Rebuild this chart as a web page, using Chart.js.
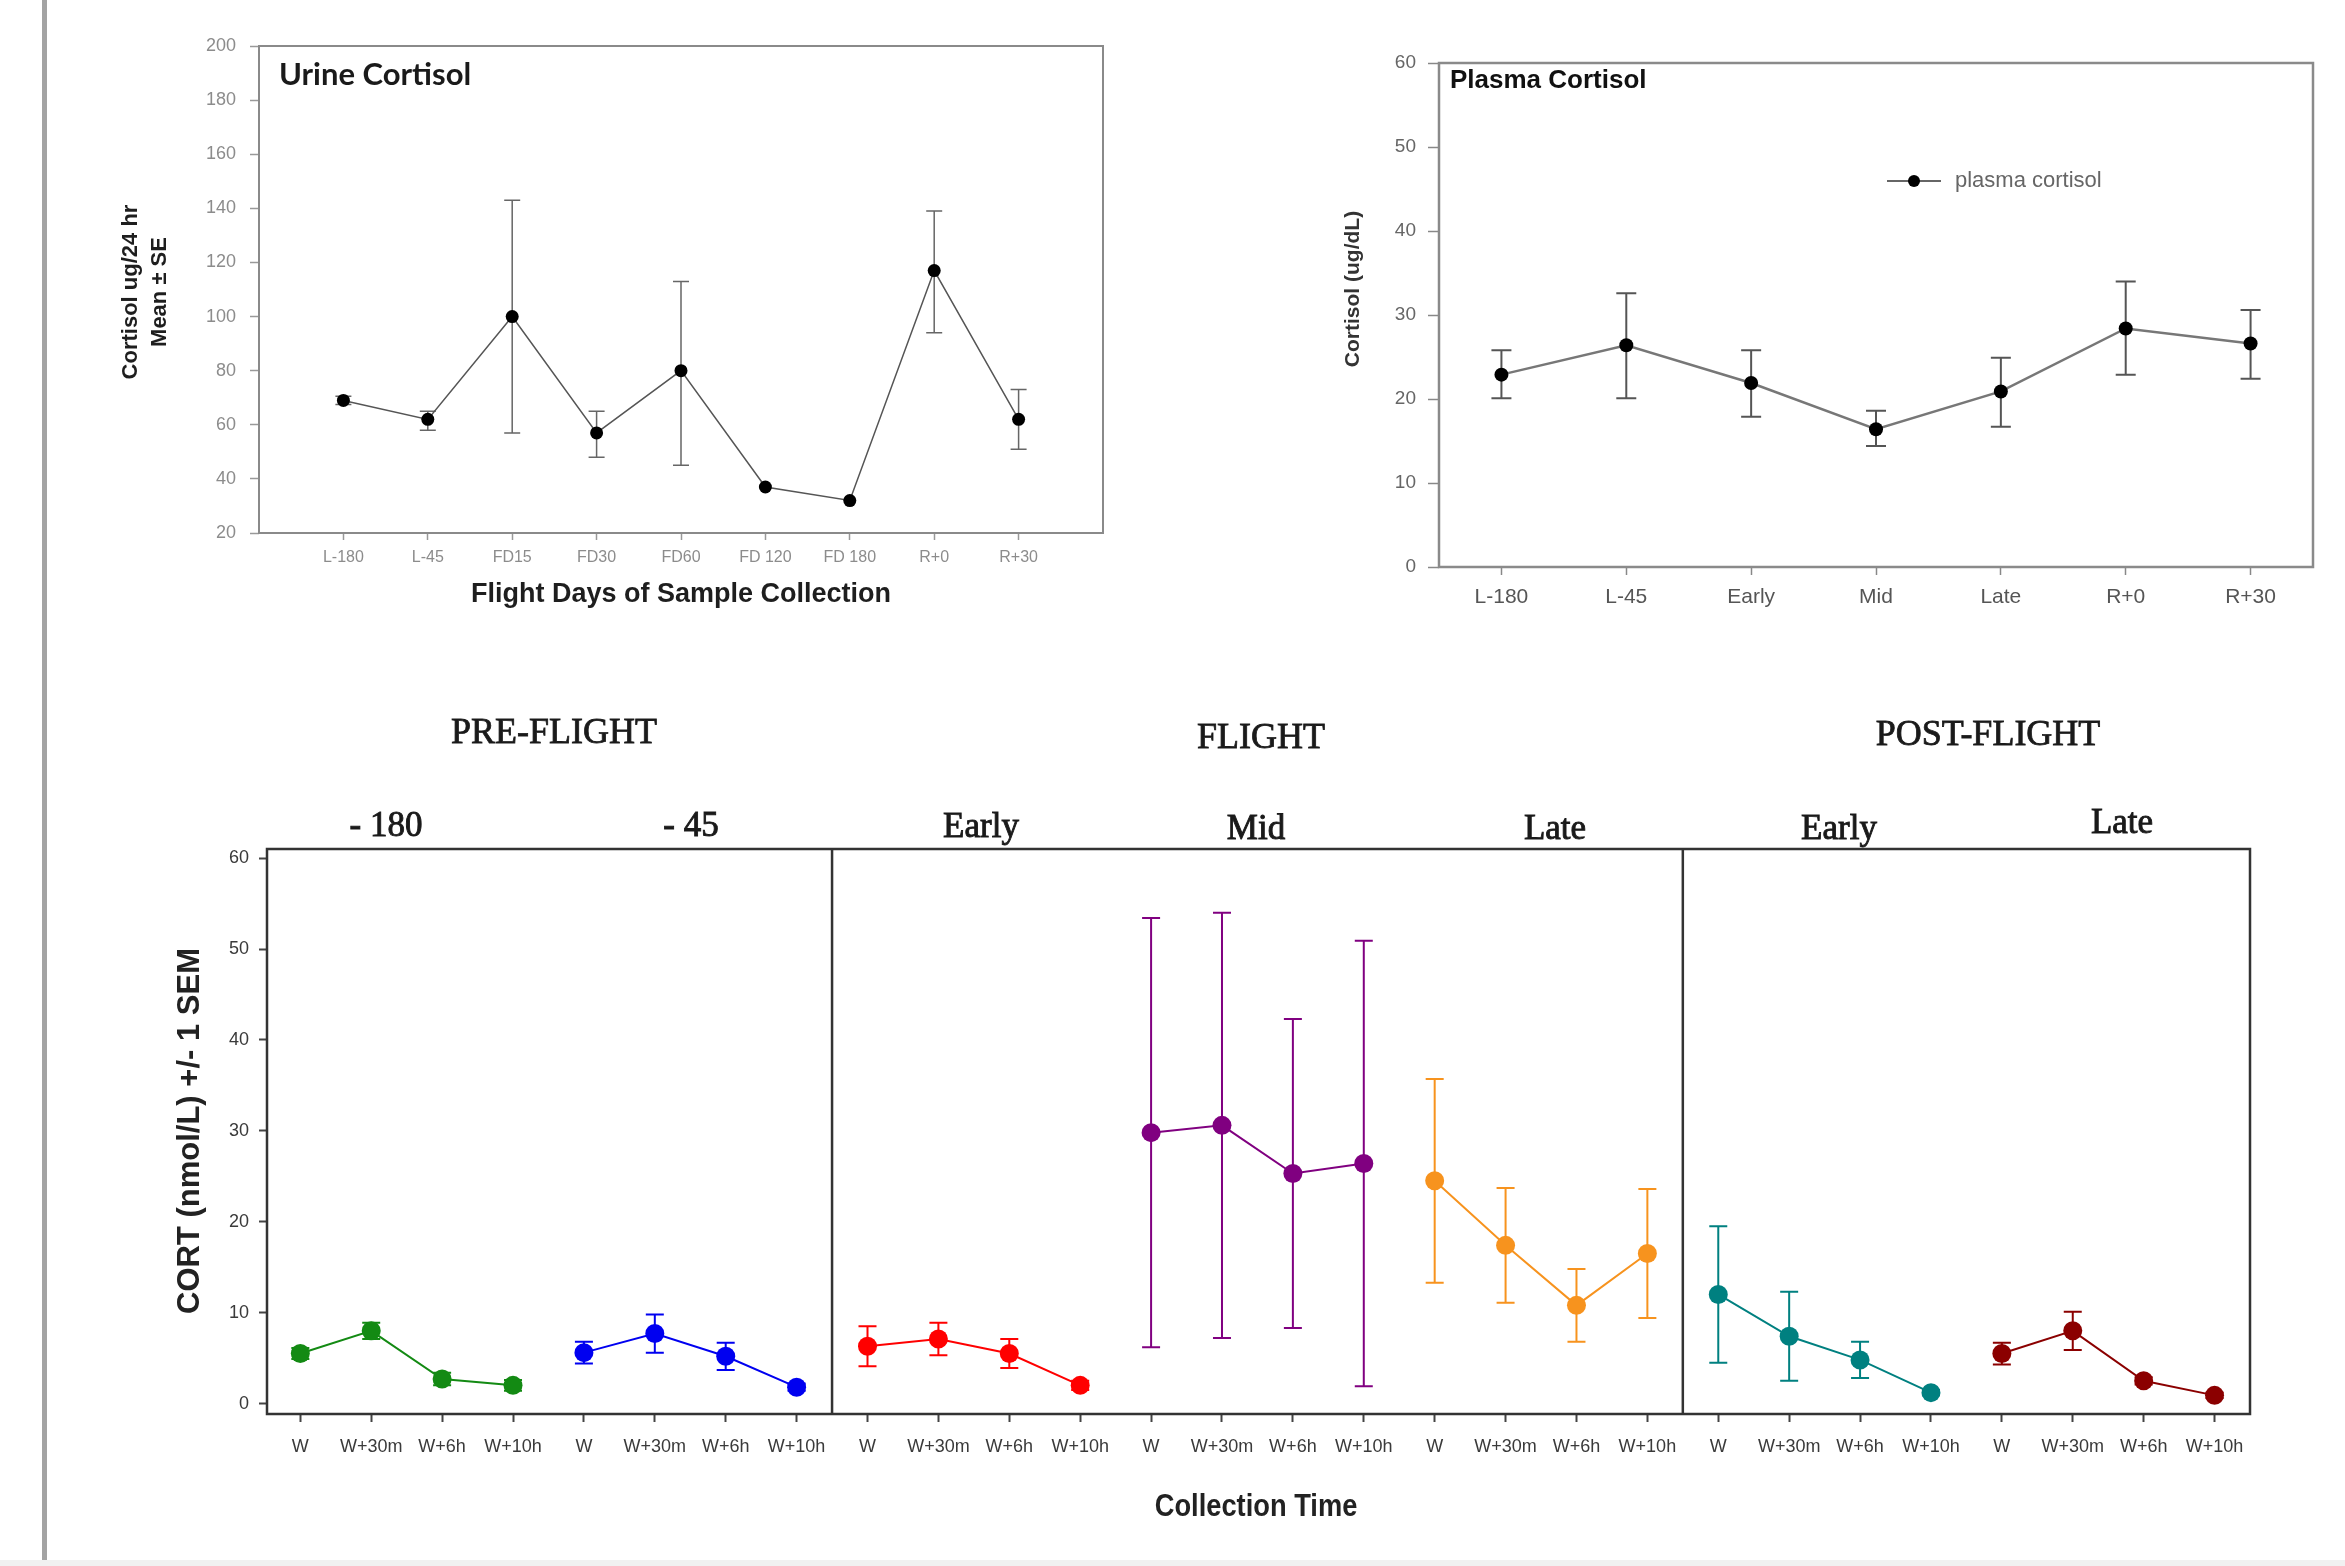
<!DOCTYPE html>
<html>
<head>
<meta charset="utf-8">
<script src="https://cdn.jsdelivr.net/npm/chart.js@4.4.1/dist/chart.umd.min.js"></script>
<style>
  body { margin: 0; background: #fff; width: 2345px; height: 1566px; position: relative; overflow: hidden; }
  canvas { position: absolute; }
  #bar { position: absolute; left: 42px; top: 0; width: 5px; height: 1566px; background: #a3a3a3; }
  #foot { position: absolute; left: 0; top: 1560px; width: 2345px; height: 6px; background: #f1f1f1; }
</style>
</head>
<body>
<div id="bar"></div>
<div id="foot"></div>
<canvas id="urine" width="1200" height="640" style="left:0;top:0"></canvas>
<canvas id="plasma" width="1145" height="640" style="left:1200px;top:0"></canvas>
<canvas id="cort" width="2345" height="926" style="left:0;top:640px"></canvas>
<script>
// urine cortisol (ug/24 hr)
const urineLabels = ['L-180', 'L-45', 'FD15', 'FD30', 'FD60', 'FD 120', 'FD 180', 'R+0', 'R+30'];
const urineMean = [69, 62, 100, 57, 80, 37, 32, 117, 62];
const urineLow  = [67.5, 58, 57, 48, 45, null, null, 94, 51];
const urineHigh = [70.5, 65, 143, 65, 113, null, null, 139, 73];

// plasma cortisol (ug/dL)
const plasmaLabels = ['L-180', 'L-45', 'Early', 'Mid', 'Late', 'R+0', 'R+30'];
const plasmaMean = [22.9, 26.4, 21.9, 16.4, 20.9, 28.4, 26.6];
const plasmaLow  = [20.1, 20.1, 17.9, 14.4, 16.7, 22.9, 22.4];
const plasmaHigh = [25.8, 32.6, 25.8, 18.6, 24.9, 34.0, 30.6];

// salivary CORT (nmol/L), mean and SEM per collection phase
const timeLabels = ['W', 'W+30m', 'W+6h', 'W+10h'];
const phaseNames = ['- 180', '- 45', 'Early', 'Mid', 'Late', 'Early', 'Late'];
const pre180 = [5.5, 8.0, 2.7, 2.0];
const pre180Sem = [0.6, 0.9, 0.7, 0.6];
const pre45 = [5.6, 7.7, 5.2, 1.8];
const pre45Sem = [1.2, 2.1, 1.5, 0.4];
const flightEarly = [6.3, 7.1, 5.5, 2.0];
const flightEarlySem = [2.2, 1.8, 1.6, 0.5];
const flightMid = [29.8, 30.6, 25.3, 26.4];
const flightMidSem = [23.6, 23.4, 17.0, 24.5];
const flightLate = [24.5, 17.4, 10.8, 16.5];
const flightLateSem = [11.2, 6.3, 4.0, 7.1];
const postEarly = [12.0, 7.4, 4.8, 1.2];
const postEarlySem = [7.5, 4.9, 2.0, 0.3];
const postLate = [5.5, 8.0, 2.5, 0.9];
const postLateSem = [1.2, 2.1, 0.4, 0.3];
const phaseColors = ['#138a13', '#0000f0', '#ff0000', '#800080', '#f7931e', '#008080', '#8b0000'];
const phaseSplits = [7.5, 19.5];

const SANS = '"Liberation Sans", Arial, sans-serif';
const SERIF = '"Liberation Serif", "Times New Roman", serif';

const common = {
  animation: false,
  responsive: false,
  devicePixelRatio: 1,
};

// box around the plot area (and optional vertical splits)
const frame = {
  id: 'frame',
  afterDraw(chart, args, opts) {
    const { ctx, chartArea: a, scales } = chart;
    ctx.save();
    ctx.strokeStyle = opts.color;
    ctx.lineWidth = opts.width;
    ctx.strokeRect(a.left, a.top, a.right - a.left, a.bottom - a.top);
    (opts.splits || []).forEach(v => {
      const px = scales.x.getPixelForValue(v);
      ctx.beginPath();
      ctx.moveTo(px, a.top);
      ctx.lineTo(px, a.bottom);
      ctx.stroke();
    });
    ctx.restore();
  }
};

const errorBars = {
  id: 'errorBars',
  beforeDatasetsDraw(chart, args, opts) {
    const { ctx, scales: { y } } = chart;
    chart.data.datasets.forEach((ds, i) => {
      if (!ds.errLow) return;
      const meta = chart.getDatasetMeta(i);
      ctx.save();
      ctx.strokeStyle = ds.errColor || ds.borderColor;
      ctx.lineWidth = opts.width;
      meta.data.forEach((pt, j) => {
        const lo = ds.errLow[j], hi = ds.errHigh[j];
        if (lo == null || hi == null) return;
        const y1 = y.getPixelForValue(lo), y2 = y.getPixelForValue(hi);
        ctx.beginPath();
        ctx.moveTo(pt.x, y1); ctx.lineTo(pt.x, y2);
        ctx.moveTo(pt.x - opts.cap, y1); ctx.lineTo(pt.x + opts.cap, y1);
        ctx.moveTo(pt.x - opts.cap, y2); ctx.lineTo(pt.x + opts.cap, y2);
        ctx.stroke();
      });
      ctx.restore();
    });
  }
};

const texts = {
  id: 'texts',
  afterDraw(chart, args, opts) {
    const ctx = chart.ctx;
    (opts.items || []).forEach(t => {
      ctx.save();
      ctx.translate(t.x, t.y);
      if (t.rot) ctx.rotate(t.rot);
      if (t.sx) ctx.scale(t.sx, 1);
      ctx.font = t.font;
      ctx.fillStyle = t.color || '#000';
      ctx.textAlign = t.align || 'center';
      ctx.textBaseline = 'middle';
      ctx.fillText(t.text, 0, 0);
      if (t.heavy) {
        ctx.strokeStyle = t.color || '#000';
        ctx.lineWidth = t.heavy;
        ctx.strokeText(t.text, 0, 0);
      }
      ctx.restore();
    });
  }
};

// line + dot legend entry inside the plasma plot
const dotLegend = {
  id: 'dotLegend',
  afterDraw(chart, args, opts) {
    const ctx = chart.ctx;
    ctx.save();
    ctx.strokeStyle = '#666';
    ctx.lineWidth = 2;
    ctx.beginPath();
    ctx.moveTo(opts.x, opts.y);
    ctx.lineTo(opts.x + 54, opts.y);
    ctx.stroke();
    ctx.fillStyle = '#000';
    ctx.beginPath();
    ctx.arc(opts.x + 27, opts.y, 6, 0, Math.PI * 2);
    ctx.fill();
    ctx.font = '22px ' + SANS;
    ctx.fillStyle = '#666';
    ctx.textBaseline = 'middle';
    ctx.fillText(opts.text, opts.x + 68, opts.y);
    ctx.restore();
  }
};

const tickGrid = (color, len, w) => ({ drawOnChartArea: false, tickLength: len, tickColor: color, tickWidth: w });

// ---- urine
new Chart(document.getElementById('urine'), {
  type: 'line',
  data: {
    datasets: [{
      data: urineMean.map((v, i) => ({ x: i + 1, y: v })),
      errLow: urineLow, errHigh: urineHigh, errColor: '#666',
      borderColor: '#555', borderWidth: 1.5, tension: 0,
      pointRadius: 6.5, pointBackgroundColor: '#000', pointBorderWidth: 0
    }]
  },
  options: {
    ...common,
    layout: { padding: { left: 0, top: 46, right: 97, bottom: 0 } },
    plugins: {
      legend: { display: false }, tooltip: { enabled: false },
      frame: { color: '#8a8a8a', width: 2 },
      errorBars: { width: 1.5, cap: 8 },
      texts: { items: [
        { text: 'Urine Cortisol', x: 279, y: 75, font: 'bold 31px Lato, ' + SANS, color: '#1a1a1a', align: 'left' },
        { text: 'Cortisol ug/24 hr', x: 131, y: 292, rot: -Math.PI / 2, font: 'bold 22px ' + SANS, color: '#1e1e1e' },
        { text: 'Mean \u00B1 SE', x: 160, y: 292, rot: -Math.PI / 2, font: 'bold 22px ' + SANS, color: '#1e1e1e' },
        { text: 'Flight Days of Sample Collection', x: 681, y: 595, font: 'bold 27px ' + SANS, color: '#1e1e1e' }
      ] }
    },
    scales: {
      x: {
        type: 'linear', min: 0, max: 10,
        afterBuildTicks: s => { s.ticks = urineLabels.map((_, i) => ({ value: i + 1 })); },
        afterFit: s => { s.height = 107; },
        grid: tickGrid('#999', 7, 1.5),
        border: { display: false },
        ticks: { callback: v => urineLabels[v - 1], autoSkip: false, maxRotation: 0, padding: 8, color: '#8c8c8c', font: { family: SANS, size: 16 } }
      },
      y: {
        min: 20, max: 200,
        afterBuildTicks: s => { const t = []; for (let v = 20; v <= 200; v += 20) t.push({ value: v }); s.ticks = t; },
        afterFit: s => { s.width = 259; },
        grid: tickGrid('#999', 9, 1.5),
        border: { display: false },
        ticks: { padding: 14, color: '#8c8c8c', font: { family: SANS, size: 18 } }
      }
    }
  },
  plugins: [frame, errorBars, texts]
});

// ---- plasma
new Chart(document.getElementById('plasma'), {
  type: 'line',
  data: {
    labels: plasmaLabels,
    datasets: [{
      data: plasmaMean,
      errLow: plasmaLow, errHigh: plasmaHigh, errColor: '#555',
      borderColor: '#777', borderWidth: 2.5, tension: 0,
      pointRadius: 7, pointBackgroundColor: '#000', pointBorderWidth: 0
    }]
  },
  options: {
    ...common,
    layout: { padding: { left: 0, top: 63, right: 32, bottom: 0 } },
    plugins: {
      legend: { display: false }, tooltip: { enabled: false },
      frame: { color: '#8a8a8a', width: 2.5 },
      errorBars: { width: 2, cap: 10 },
      dotLegend: { x: 687, y: 181, text: 'plasma cortisol' },
      texts: { items: [
        { text: 'Plasma Cortisol', x: 250, y: 81, font: 'bold 26px ' + SANS, color: '#111', align: 'left' },
        { text: 'Cortisol (ug/dL)', x: 153, y: 289, rot: -Math.PI / 2, font: 'bold 21px ' + SANS, color: '#333' }
      ] }
    },
    scales: {
      x: {
        type: 'category', offset: true,
        afterFit: s => { s.height = 73; },
        grid: { ...tickGrid('#888', 8, 1.5), offset: false },
        border: { display: false },
        ticks: { autoSkip: false, maxRotation: 0, padding: 10, color: '#555', font: { family: SANS, size: 21 } }
      },
      y: {
        min: 0, max: 60,
        afterBuildTicks: s => { const t = []; for (let v = 0; v <= 60; v += 10) t.push({ value: v }); s.ticks = t; },
        afterFit: s => { s.width = 239; },
        grid: tickGrid('#888', 11, 1.5),
        border: { display: false },
        ticks: { padding: 12, color: '#666', font: { family: SANS, size: 19 } }
      }
    }
  },
  plugins: [frame, errorBars, texts, dotLegend]
});

// ---- salivary CORT by phase
const phaseMeans = [pre180, pre45, flightEarly, flightMid, flightLate, postEarly, postLate];
const phaseSems = [pre180Sem, pre45Sem, flightEarlySem, flightMidSem, flightLateSem, postEarlySem, postLateSem];
const slots = phaseMeans.length * timeLabels.length;

const cortSets = phaseMeans.map((means, g) => ({
  data: means.map((v, j) => ({ x: g * timeLabels.length + j, y: v })),
  errLow: means.map((v, j) => v - phaseSems[g][j]),
  errHigh: means.map((v, j) => v + phaseSems[g][j]),
  borderColor: phaseColors[g], borderWidth: 2, tension: 0,
  pointRadius: 9.5, pointBackgroundColor: phaseColors[g], pointBorderWidth: 0
}));

const headFont = '36px ' + SERIF;
const subFont = '35px ' + SERIF;
const subX = [386, 691, 981, 1256, 1555, 1839, 2122];
const subY = [187, 187, 188, 190, 190, 190, 184];

new Chart(document.getElementById('cort'), {
  type: 'line',
  data: { datasets: cortSets },
  options: {
    ...common,
    layout: { padding: { left: 0, top: 209, right: 95, bottom: 0 } },
    plugins: {
      legend: { display: false }, tooltip: { enabled: false },
      frame: { color: '#333', width: 2.5, splits: phaseSplits },
      errorBars: { width: 2, cap: 9 },
      texts: { items: [
        { text: 'PRE-FLIGHT', x: 554, y: 94, font: headFont, color: '#1a1a1a', heavy: 0.8 },
        { text: 'FLIGHT', x: 1261, y: 99, font: headFont, color: '#1a1a1a', heavy: 0.8 },
        { text: 'POST-FLIGHT', x: 1988, y: 96, font: headFont, color: '#1a1a1a', heavy: 0.8 },
        ...phaseNames.map((n, i) => ({ text: n, x: subX[i], y: subY[i], font: subFont, color: '#1a1a1a', heavy: 0.9 })),
        { text: 'CORT (nmol/L) +/- 1 SEM', x: 190, y: 491, rot: -Math.PI / 2, font: 'bold 31px ' + SANS, color: '#222' },
        { text: 'Collection Time', x: 1256, y: 867, sx: 0.88, font: 'bold 31px ' + SANS, color: '#222' }
      ] }
    },
    scales: {
      x: {
        type: 'linear', min: -0.47, max: slots - 0.5,
        afterBuildTicks: s => { const t = []; for (let i = 0; i < slots; i++) t.push({ value: i }); s.ticks = t; },
        afterFit: s => { s.height = 152; },
        grid: tickGrid('#444', 8, 2),
        border: { display: false },
        ticks: { callback: v => timeLabels[v % timeLabels.length], autoSkip: false, maxRotation: 0, padding: 14, color: '#3a3a3a', font: { family: SANS, size: 18 } }
      },
      y: {
        min: -1.15, max: 61,
        afterBuildTicks: s => { const t = []; for (let v = 0; v <= 60; v += 10) t.push({ value: v }); s.ticks = t; },
        afterFit: s => { s.width = 267; },
        grid: tickGrid('#444', 8, 2),
        border: { display: false },
        ticks: { padding: 10, color: '#3a3a3a', font: { family: SANS, size: 18 } }
      }
    }
  },
  plugins: [frame, errorBars, texts]
});
</script>
</body>
</html>
